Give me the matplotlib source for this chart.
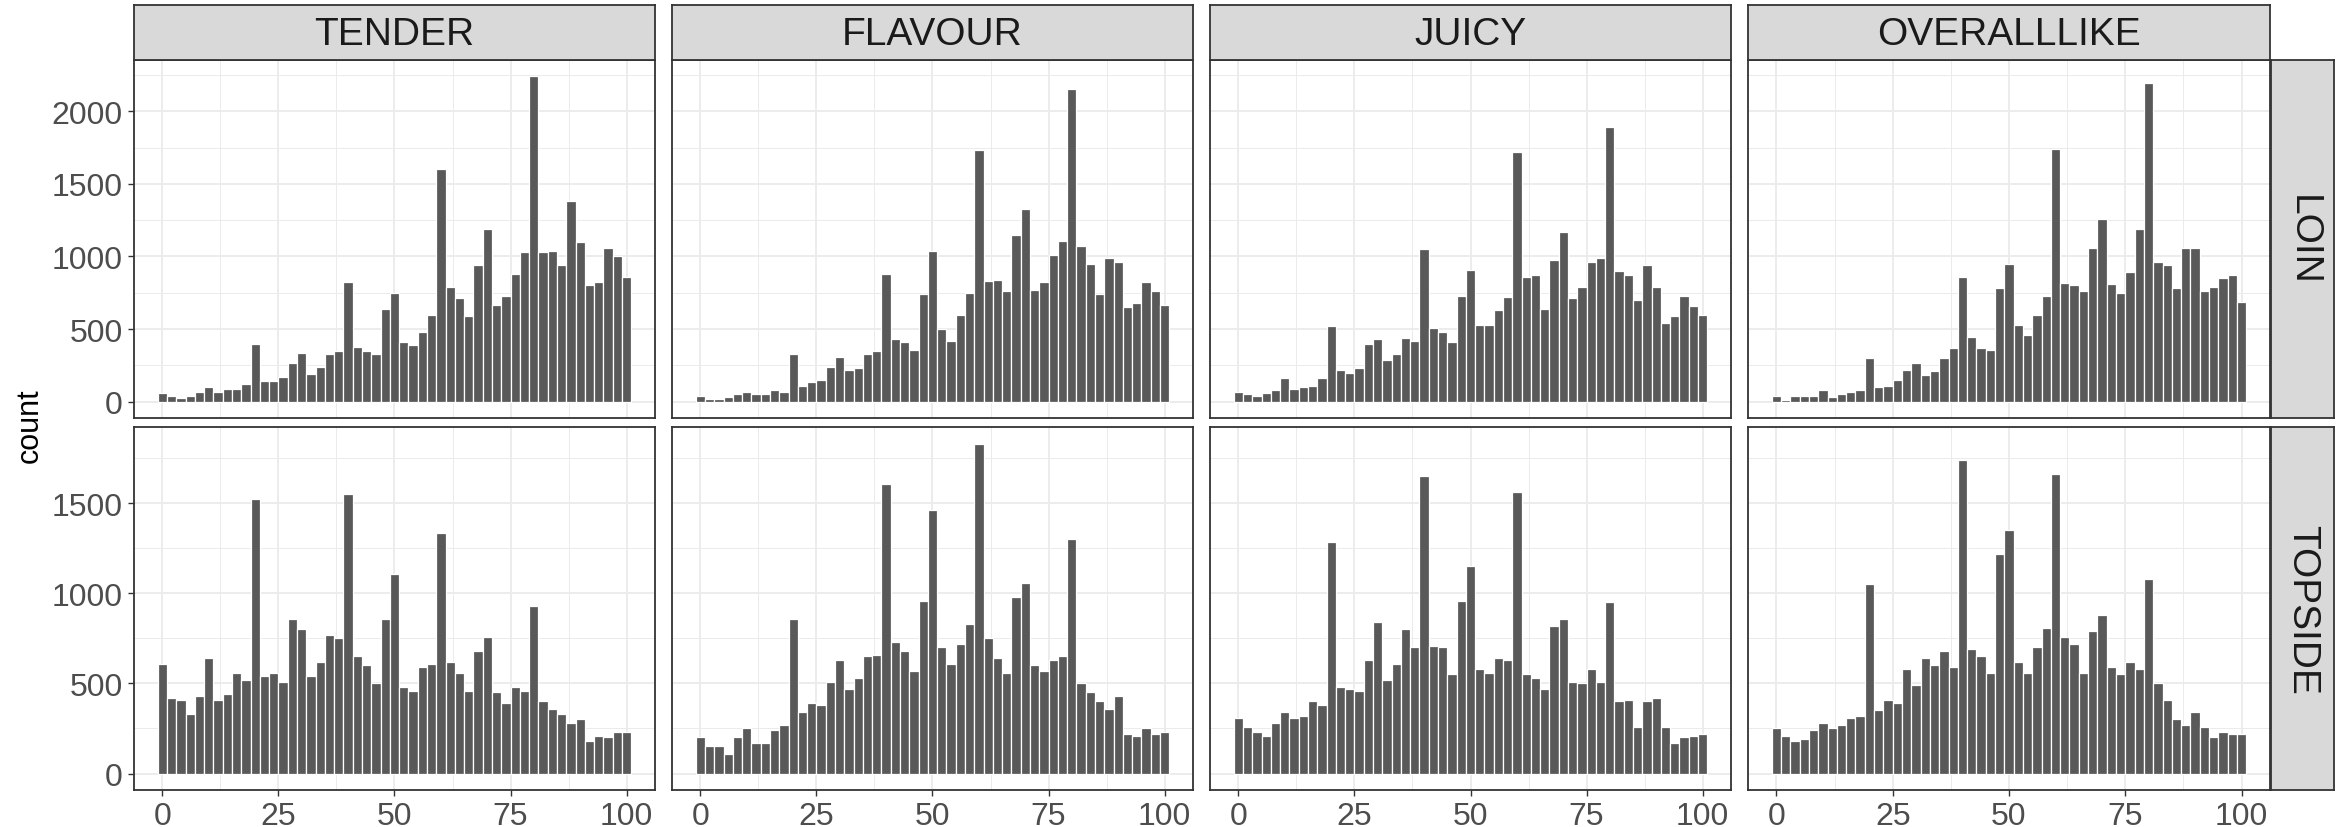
import matplotlib.pyplot as plt
from matplotlib.ticker import FixedLocator

plt.rcParams['font.family'] = ['Liberation Sans', 'DejaVu Sans']

# bin centres of the histograms (binwidth 2)
scores = list(range(0, 101, 2))
attributes = ['TENDER', 'FLAVOUR', 'JUICY', 'OVERALLLIKE']
cuts = ['LOIN', 'TOPSIDE']

loin_tender = [60, 37, 28, 37, 69, 100, 69, 90, 90, 120,
               400, 141, 141, 169, 268, 338, 192, 241, 329, 350,
               822, 380, 350, 329, 641, 750, 410, 389, 479, 600,
               1600, 789, 711, 590, 940, 1190, 669, 729, 880, 1030,
               2241, 1030, 1039, 940, 1380, 1102, 801, 822, 1060, 1000,
               861]
loin_flavour = [39, 19, 19, 30, 51, 69, 51, 51, 81, 69,
                329, 109, 139, 150, 241, 310, 220, 229, 329, 350,
                880, 431, 410, 359, 741, 1039, 500, 419, 600, 750,
                1731, 831, 840, 759, 1150, 1329, 771, 822, 1009, 1109,
                2150, 1069, 949, 741, 991, 961, 650, 681, 822, 759,
                669]
loin_juicy = [69, 51, 39, 60, 81, 160, 90, 100, 109, 160,
              519, 220, 199, 229, 400, 431, 289, 329, 440, 419,
              1051, 509, 479, 410, 729, 910, 530, 530, 630, 720,
              1720, 861, 870, 641, 979, 1169, 711, 789, 961, 991,
              1891, 900, 870, 699, 940, 789, 539, 590, 729, 660,
              600]
loin_overall = [39, 9, 39, 39, 39, 81, 30, 51, 69, 81,
                299, 100, 109, 150, 220, 268, 181, 211, 299, 370,
                861, 449, 370, 359, 780, 949, 530, 461, 600, 729,
                1741, 819, 801, 759, 1060, 1259, 810, 750, 891, 1190,
                2192, 961, 940, 780, 1060, 1060, 759, 789, 850, 870,
                690]

topside_tender = [610, 420, 410, 330, 430, 640, 410, 440, 560, 520,
                  1522, 540, 560, 510, 860, 800, 540, 620, 770, 750,
                  1552, 650, 600, 500, 860, 1110, 480, 460, 590, 610,
                  1337, 620, 560, 460, 680, 760, 450, 390, 480, 460,
                  930, 400, 360, 330, 280, 300, 180, 210, 200, 230,
                  230]
topside_flavour = [200, 150, 150, 110, 200, 250, 170, 170, 240, 270,
                   860, 340, 390, 380, 510, 630, 470, 530, 650, 660,
                   1607, 730, 680, 570, 960, 1465, 700, 610, 720, 830,
                   1832, 750, 640, 560, 980, 1060, 600, 570, 630, 650,
                   1300, 500, 450, 400, 360, 430, 220, 210, 250, 220,
                   230]
topside_juicy = [310, 260, 230, 210, 280, 340, 310, 320, 400, 380,
                 1286, 480, 470, 460, 630, 840, 520, 610, 800, 700,
                 1652, 710, 700, 550, 960, 1150, 580, 560, 640, 630,
                 1562, 550, 530, 470, 820, 860, 510, 500, 580, 510,
                 950, 400, 410, 260, 400, 420, 260, 170, 200, 210,
                 220]
topside_overall = [250, 210, 180, 190, 240, 280, 250, 270, 310, 320,
                   1050, 350, 410, 390, 580, 490, 640, 600, 680, 590,
                   1740, 690, 650, 560, 1220, 1350, 620, 560, 700, 810,
                   1660, 760, 720, 560, 790, 880, 590, 550, 620, 580,
                   1080, 500, 410, 300, 270, 340, 260, 200, 230, 220,
                   220]

counts = {
    'LOIN': [loin_tender, loin_flavour, loin_juicy, loin_overall],
    'TOPSIDE': [topside_tender, topside_flavour, topside_juicy, topside_overall],
}
y_breaks = {
    'LOIN': [0, 500, 1000, 1500, 2000],
    'TOPSIDE': [0, 500, 1000, 1500],
}
x_breaks = [0, 25, 50, 75, 100]

W, H = 2336, 828
BAR = '#595959'
GRID = '#EBEBEB'
BORDER = '#333333'
STRIP = '#D9D9D9'

# panel edges in pixels
col_edges = [(134, 655), (672, 1193), (1210, 1731), (1748, 2270)]
row_edges = [(61, 419), (428, 791)]


def box(left, top, right, bottom):
    return [left / W, 1 - bottom / H, (right - left) / W, (bottom - top) / H]


def style_strip(ax):
    ax.set_facecolor(STRIP)
    ax.set_xticks([])
    ax.set_yticks([])
    for s in ax.spines.values():
        s.set_color(BORDER)
        s.set_linewidth(1.3)


fig = plt.figure(figsize=(W / 100, H / 100), dpi=100)

for r, cut in enumerate(cuts):
    top, bottom = row_edges[r]
    ymax = max(max(v) for v in counts[cut])
    for c, attr in enumerate(attributes):
        left, right = col_edges[c]
        ax = fig.add_axes(box(left, top, right, bottom))
        ax.bar(scores, counts[cut][c], width=2, color=BAR,
               edgecolor='white', linewidth=0.9, zorder=2)
        ax.set_xlim(-6.1, 106.1)
        ax.set_ylim(-0.05 * ymax, 1.05 * ymax)

        ax.xaxis.set_major_locator(FixedLocator(x_breaks))
        ax.xaxis.set_minor_locator(FixedLocator([12.5, 37.5, 62.5, 87.5]))
        ax.yaxis.set_major_locator(FixedLocator(y_breaks[cut]))
        ax.yaxis.set_minor_locator(FixedLocator([b + 250 for b in y_breaks[cut]]))
        ax.grid(which='major', color=GRID, linewidth=1.3, zorder=0)
        ax.grid(which='minor', color=GRID, linewidth=0.7, zorder=0)
        ax.set_axisbelow(True)

        for s in ax.spines.values():
            s.set_color(BORDER)
            s.set_linewidth(1.3)

        ax.tick_params(which='minor', length=0)
        ax.tick_params(which='major', length=4, width=1, color=BORDER,
                       labelcolor='#4D4D4D', labelsize=23, pad=4)
        if c > 0:
            ax.tick_params(left=False, labelleft=False)
        if r == 0:
            ax.tick_params(bottom=False, labelbottom=False)

        # column strips on top
        if r == 0:
            sx = fig.add_axes(box(left, 6, right, top))
            style_strip(sx)
            sx.text(0.5, 0.48, attr, ha='center', va='center', fontsize=28,
                    color='#1A1A1A', transform=sx.transAxes)

    # row strip on the right
    sy = fig.add_axes(box(2271, top, 2334, bottom))
    style_strip(sy)
    sy.text(0.5, 0.5, cut, ha='center', va='center', fontsize=28,
            rotation=-90, color='#1A1A1A', transform=sy.transAxes)

fig.text(30 / W, 1 - 426 / H, 'count', rotation=90, ha='center',
         va='center', fontsize=22, color='black')

plt.savefig('out.png', dpi=100)
